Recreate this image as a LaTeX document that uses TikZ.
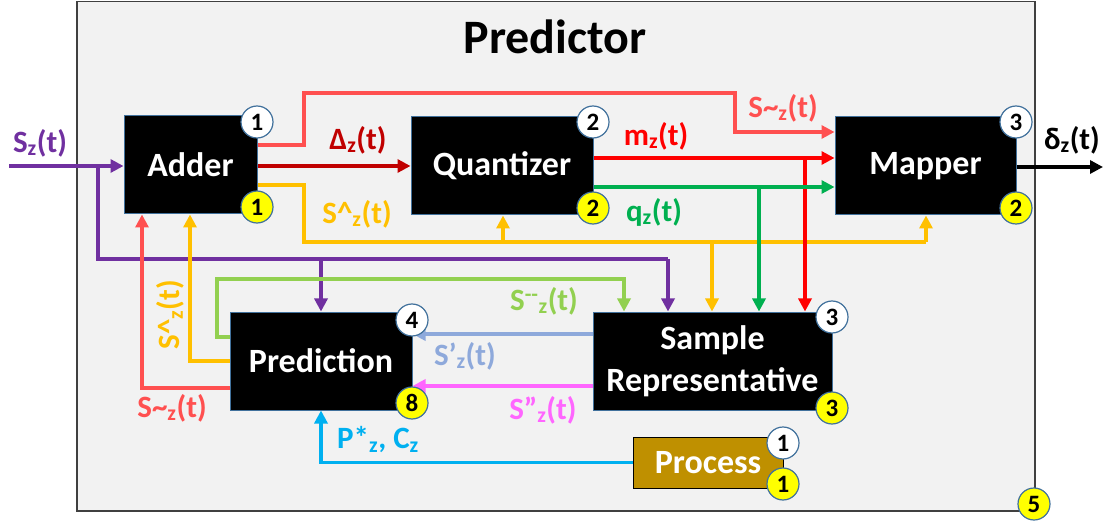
\documentclass[tikz,border=0pt]{standalone}
\usepackage{fontspec}
\setmainfont{Carlito}
\usetikzlibrary{arrows.meta}
\definecolor{cPurple}{HTML}{7030A0}
\definecolor{cLRed}{HTML}{FF5050}
\definecolor{cDRed}{HTML}{C00000}
\definecolor{cOrange}{HTML}{FFC000}
\definecolor{cRed}{HTML}{FF0000}
\definecolor{cGreen}{HTML}{00B050}
\definecolor{cLGreen}{HTML}{92D050}
\definecolor{cLBlue}{HTML}{8EA9DB}
\definecolor{cPink}{HTML}{FF66FF}
\definecolor{cBlue}{HTML}{00B0F0}
\definecolor{cGold}{HTML}{BF9000}
\definecolor{cEdge}{HTML}{41719C}
\definecolor{cBg}{HTML}{F2F2F2}
\definecolor{cFrame}{HTML}{404040}
\definecolor{cYel}{HTML}{FFFF00}
\begin{document}
\begin{tikzpicture}[x=1pt,y=-1pt,
  blk/.style={fill=black,draw=cEdge,line width=1pt,text=white,font=\bfseries\fontsize{34}{42}\selectfont,inner sep=0pt,align=center},
  numw/.style={circle,draw=cEdge,line width=1.2pt,fill=white,minimum size=32pt,inner sep=0pt,font=\bfseries\fontsize{25}{25}\selectfont},
  numy/.style={numw,fill=cYel},
  ln/.style={line width=3.2pt},
  arr/.style={ln,-{Triangle[length=13pt,width=13pt]}},
  lbl/.style={font=\bfseries\fontsize{31}{31}\selectfont,inner sep=0pt}]
\useasboundingbox (0,0) rectangle (1108,521);
% frame
\draw[fill=cBg,draw=cFrame,line width=1.5pt] (77,1.5) rectangle (1035,511);
\node[font=\bfseries\fontsize{48}{48}\selectfont,anchor=base,inner sep=0pt] (title) at (555,54) {Predictor};
% blocks
\node[blk,minimum width=133pt,minimum height=98pt] (adder) at (190.5,165) {Adder};
\node[blk,minimum width=182pt,minimum height=98pt] (quant) at (502,166) {Quantizer};
\node[blk,minimum width=181pt,minimum height=98pt] (mapper) at (925.5,166) {Mapper};
\node[blk,minimum width=182pt,minimum height=98pt] (pred) at (321,361) {Prediction};
\node[blk,minimum width=239pt,minimum height=98pt] (samp) at (712.5,361) {Sample\\Representative};
\node[blk,fill=cGold,draw=black,minimum width=150pt,minimum height=51pt] (proc) at (708,462.5) {Process};
% coordinates
\coordinate (in) at (9,166);
\coordinate (out) at (1103,167);
\coordinate (pj) at (98,166);
% input
\draw[arr,cPurple] (in) -- (in -| adder.west);
\draw[ln,cPurple] (pj) -- (98,259) -- (668,259);
\draw[arr,cPurple] (668,259) -- (samp.north -| 668,0);
\draw[arr,cPurple] (321,259) -- (pred.north);
% S~ top
\draw[arr,cLRed] (adder.east |- 0,145) -- (304,145) -- (304,93) -- (735,93) -- (735,132) -- (mapper.west |- 0,132);
% Delta
\draw[arr,cDRed] (adder.east |- 0,166) -- (quant.west |- 0,166);
% S^ orange
\draw[ln,cOrange] (adder.east |- 0,185) -- (304,185) -- (304,242) -- (926,242);
\draw[arr,cOrange] (926,242) -- (mapper.south -| 926,0);
\draw[arr,cOrange] (503,242) -- (quant.south -| 503,0);
\draw[arr,cOrange] (712,242) -- (samp.north -| 712,0);
% m red
\draw[arr,cRed] (quant.east |- 0,158) -- (mapper.west |- 0,158);
\draw[arr,cRed] (805,158) -- (samp.north -| 805,0);
% q green
\draw[arr,cGreen] (quant.east |- 0,187) -- (mapper.west |- 0,187);
\draw[arr,cGreen] (759,187) -- (samp.north -| 759,0);
% output
\draw[arr,black] (mapper.east |- 0,167) -- (out);
% feedback to adder
\draw[arr,cLRed] (pred.west |- 0,388) -- (142,388) -- (adder.south -| 142,0);
\draw[arr,cOrange] (pred.west |- 0,361) -- (190,361) -- (adder.south -| 190,0);
% S-- light green
\draw[arr,cLGreen] (pred.west |- 0,337) -- (217,337) -- (217,279) -- (624,279) -- (samp.north -| 624,0);
% S' and S''
\draw[arr,cLBlue] (samp.west |- 0,334) -- (pred.east |- 0,334);
\draw[arr,cPink] (samp.west |- 0,386) -- (pred.east |- 0,386);
% process
\draw[arr,cBlue] (proc.west) -- (321,462.5) -- (pred.south);
% labels
\node[lbl,text=cPurple] (lsin) at (40,143) {S\textsubscript{z}(t)};
\node[lbl,text=cDRed] (ldel) at (358,140) {Δ\textsubscript{z}(t)};
\node[lbl,text=cLRed] (lstt) at (783,108) {S\textasciitilde\textsubscript{z}(t)};
\node[lbl,text=cRed] (lm) at (656,136) {m\textsubscript{z}(t)};
\node[lbl,text=cGreen] (lq) at (654,212) {q\textsubscript{z}(t)};
\node[lbl,text=cOrange] (lsh) at (357,214) {S\textasciicircum\textsubscript{z}(t)};
\node[lbl,text=black] (ld) at (1072,140) {δ\textsubscript{z}(t)};
\node[lbl,text=cOrange,rotate=90] (lsh2) at (170,315) {S\textasciicircum\textsubscript{z}(t)};
\node[lbl,text=cLRed] (lst2) at (172,408) {S\textasciitilde\textsubscript{z}(t)};
\node[lbl,text=cLGreen] (lsmm) at (544,301) {S\textsuperscript{-{}-}\textsubscript{z}(t)};
\node[lbl,text=cLBlue] (lsp) at (465,356) {S’\textsubscript{z}(t)};
\node[lbl,text=cPink] (lspp) at (543,410) {S”\textsubscript{z}(t)};
\node[lbl,text=cBlue] (lpc) at (378,440) {P*\textsubscript{z}, C\textsubscript{z}};
% number badges
\node[numw] (n1) at (257,122) {1};
\node[numy] (y1) at (257,207) {1};
\node[numw] (n2) at (593,122) {2};
\node[numy] (y2) at (593,208) {2};
\node[numw] (n3) at (1016,122) {3};
\node[numy] (y3) at (1016,208) {2};
\node[numw] (n4) at (412,320) {4};
\node[numy] (y4) at (412,403) {8};
\node[numw] (n5) at (832,317) {3};
\node[numy] (y5) at (832,408) {3};
\node[numw] (n6) at (783,443) {1};
\node[numy] (y6) at (783,484) {1};
\node[numy] (y7) at (1034,504) {5};
\end{tikzpicture}
\end{document}
